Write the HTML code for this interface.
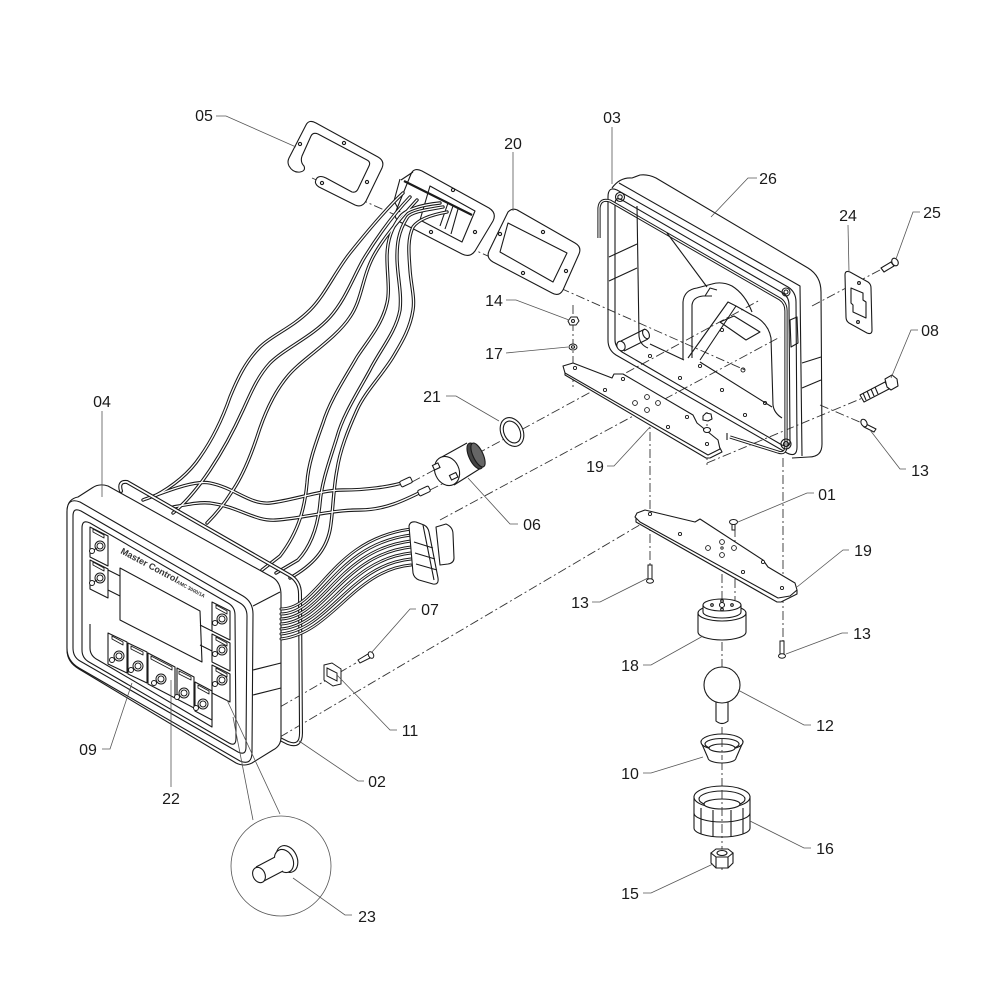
<!DOCTYPE html>
<html><head><meta charset="utf-8"><style>
html,body{margin:0;padding:0;background:#fff;}
svg{display:block;}
text{font-family:"Liberation Sans",Arial,sans-serif;font-size:16px;fill:#1a1a1a;}
</style></head><body>
<svg width="1000" height="1000" viewBox="0 0 1000 1000" xmlns="http://www.w3.org/2000/svg">
<rect width="1000" height="1000" fill="#fff"/>

<!-- ================= DASH-DOT CENTER LINES ================= -->
<g fill="none" stroke="#333" stroke-width="0.9" stroke-dasharray="9 3 2 3">
  <path d="M 312,178 L 745,370"/>
  <path d="M 462,462 L 760,300"/>
  <path d="M 440,520 L 780,337"/>
  <path d="M 895,262 L 812,306"/>
  <path d="M 707,463 L 865,397"/>
  <path d="M 820,405 L 862,423"/>
  <path d="M 280,737 L 643,523"/>
  <path d="M 280,707 L 356,663"/>
  <path d="M 573,305 L 573,390"/>
  <path d="M 650,398 L 650,565"/>
  <path d="M 707,412 L 707,465"/>
  <path d="M 783,458 L 783,642"/>
  <path d="M 722,540 L 722,870"/>
  <path d="M 735,528 L 735,600"/>
  <path d="M 412,482 L 436,469"/>
  <path d="M 430,490 L 452,479"/>
</g>

<!-- ================= PART 05 GASKET ================= -->
<g fill="#fff" stroke="#1a1a1a" stroke-width="1.1" stroke-linejoin="round">
  <path d="M 306,125 Q 309,119 316,123 L 378,157 Q 385,161 382,168 L 366,201 Q 362,208 355,205 L 319,187 Q 313,183 317,178 Q 320,175 326,178 L 352,192 Q 356,193 358,189 L 369,166 Q 371,162 367,160 L 318,134 Q 313,132 311,136 L 302,156 Q 300,162 304,166 Q 306,171 300,172 Q 293,173 289,166 Q 287,162 289,158 Z"/>
  <circle cx="300" cy="144" r="1.6"/><circle cx="344" cy="143" r="1.6"/><circle cx="367" cy="182" r="1.6"/><circle cx="322" cy="183" r="1.6"/>
</g>

<!-- ================= GROMMET BOX ================= -->
<g fill="#fff" stroke="#1a1a1a" stroke-width="1.1" stroke-linejoin="round">
  <path d="M 411,174 Q 414,167 422,171 L 489,208 Q 497,213 493,221 L 475,251 Q 470,258 462,254 L 400,222 Q 393,218 396,211 Z"/>
  <path d="M 430,186 L 475,211 L 462,242 L 420,220 Z" fill="none"/>
  <path d="M 400,179 L 394,201 L 400,212" fill="none"/>
  <path d="M 401,180 L 413,172" fill="none"/>
  <path d="M 404,181 L 472,215" fill="none" stroke-width="2.2"/>
  <path d="M 448,203 L 440,226 M 453,206 L 445,229 M 458,209 L 451,234" fill="none"/>
  <circle cx="453" cy="190" r="1.6"/><circle cx="475" cy="232" r="1.6"/><circle cx="431" cy="232" r="1.6"/>
</g>

<!-- ================= PART 20 ================= -->
<g fill="#fff" stroke="#1a1a1a" stroke-width="1.1" stroke-linejoin="round">
  <path d="M 508,212 Q 513,207 519,211 L 575,243 Q 582,247 579,254 L 563,290 Q 559,297 552,293 L 493,262 Q 486,258 489,251 Z"/>
  <path d="M 508,223 L 567,253 L 553,282 L 500,252 Z" fill="none"/>
  <circle cx="543" cy="232" r="1.6"/><circle cx="566" cy="271" r="1.6"/><circle cx="523" cy="273" r="1.6"/><circle cx="500" cy="234" r="1.6"/>
</g>

<!-- ================= WIRES (double line) ================= -->
<g fill="none" stroke-linecap="round">
  <g stroke="#1a1a1a" stroke-width="3.4">
    <path id="w1" d="M 403,193 C 385,210 362,238 350,253 C 335,272 325,295 310,310 C 292,328 272,335 260,347 C 245,362 237,380 230,397 C 222,420 212,440 200,457 C 188,475 170,488 153,497"/>
    <path d="M 410,197 C 390,218 372,245 363,260 C 352,280 345,300 330,317 C 312,337 285,348 270,363 C 257,377 250,395 243,410 C 233,432 222,452 210,470 C 198,488 185,503 173,513"/>
    <path d="M 417,200 C 397,222 382,240 373,257 C 362,278 362,300 350,317 C 335,340 300,360 287,377 C 272,395 263,418 257,437 C 250,458 243,475 233,490 C 225,503 215,515 207,523"/>
    <path d="M 440,203 C 420,205 405,210 400,217 C 390,230 387,245 387,257 C 387,275 390,290 387,303 C 382,325 368,340 357,357 C 345,378 330,400 323,423 C 315,445 308,465 307,483 C 305,505 300,530 280,556 L 262,570"/>
    <path d="M 443,207 C 425,210 410,212 407,218 C 398,232 397,245 397,257 C 397,275 402,292 400,310 C 396,332 380,350 370,370 C 358,392 343,415 337,437 C 330,460 322,480 320,503 C 318,525 312,545 298,560 L 276,573"/>
    <path d="M 447,212 C 430,215 418,220 413,227 C 407,240 409,255 410,270 C 411,285 415,298 413,310 C 410,330 400,345 393,357 C 382,375 365,392 357,410 C 348,430 340,450 337,470 C 333,490 333,515 330,530 C 326,550 313,565 290,578"/>
    <path d="M 143,500 C 170,490 195,480 210,483 C 235,488 250,505 270,503 C 295,500 320,490 343,490 C 365,490 390,487 405,482"/>
    <path d="M 173,507 C 190,504 200,502 210,503 C 240,507 255,522 277,520 C 305,518 330,510 360,510 C 385,510 405,500 423,491"/>
  </g>
  <g stroke="#fff" stroke-width="1.3">
    <path d="M 403,193 C 385,210 362,238 350,253 C 335,272 325,295 310,310 C 292,328 272,335 260,347 C 245,362 237,380 230,397 C 222,420 212,440 200,457 C 188,475 170,488 153,497"/>
    <path d="M 410,197 C 390,218 372,245 363,260 C 352,280 345,300 330,317 C 312,337 285,348 270,363 C 257,377 250,395 243,410 C 233,432 222,452 210,470 C 198,488 185,503 173,513"/>
    <path d="M 417,200 C 397,222 382,240 373,257 C 362,278 362,300 350,317 C 335,340 300,360 287,377 C 272,395 263,418 257,437 C 250,458 243,475 233,490 C 225,503 215,515 207,523"/>
    <path d="M 440,203 C 420,205 405,210 400,217 C 390,230 387,245 387,257 C 387,275 390,290 387,303 C 382,325 368,340 357,357 C 345,378 330,400 323,423 C 315,445 308,465 307,483 C 305,505 300,530 280,556 L 262,570"/>
    <path d="M 443,207 C 425,210 410,212 407,218 C 398,232 397,245 397,257 C 397,275 402,292 400,310 C 396,332 380,350 370,370 C 358,392 343,415 337,437 C 330,460 322,480 320,503 C 318,525 312,545 298,560 L 276,573"/>
    <path d="M 447,212 C 430,215 418,220 413,227 C 407,240 409,255 410,270 C 411,285 415,298 413,310 C 410,330 400,345 393,357 C 382,375 365,392 357,410 C 348,430 340,450 337,470 C 333,490 333,515 330,530 C 326,550 313,565 290,578"/>
    <path d="M 143,500 C 170,490 195,480 210,483 C 235,488 250,505 270,503 C 295,500 320,490 343,490 C 365,490 390,487 405,482"/>
    <path d="M 173,507 C 190,504 200,502 210,503 C 240,507 255,522 277,520 C 305,518 330,510 360,510 C 385,510 405,500 423,491"/>
  </g>
</g>
<!-- wire connectors -->
<g fill="#fff" stroke="#1a1a1a" stroke-width="1">
  <rect x="400" y="479" width="12" height="6" rx="1.5" transform="rotate(-25 406 482)"/>
  <rect x="418" y="488" width="12" height="6" rx="1.5" transform="rotate(-25 424 491)"/>
</g>

<!-- ================= GASKET 02 ================= -->
<g fill="none" stroke-linecap="round">
  <path d="M 121,491 Q 118,481 127,482 L 289,575 Q 300,581 300,594 L 301,733 Q 301,748 288,743 L 276,737" stroke="#1a1a1a" stroke-width="4"/>
  <path d="M 121,491 Q 118,481 127,482 L 289,575 Q 300,581 300,594 L 301,733 Q 301,748 288,743 L 276,737" stroke="#fff" stroke-width="1.8"/>
</g>

<!-- ================= DISPLAY 04 ================= -->
<g fill="#fff" stroke="#1a1a1a" stroke-width="1.1" stroke-linejoin="round">
  <path d="M 67,512 Q 67,499 78,497 L 92,488 Q 99,483 108,486 L 272,577 Q 281,582 281,595 L 281,737 Q 281,746 273,750 L 252,763 Q 244,767 236,763 L 79,669 Q 67,662 67,650 Z"/>
  <path d="M 67,512 Q 67,497 80,502 L 243,596 Q 253,602 253,614 L 252,752 Q 252,766 240,761 L 79,668 Q 67,661 67,648 Z"/>
  <path d="M 73,516 Q 73,507 81,511 L 240,603 Q 247,607 247,616 L 246,747 Q 246,756 238,752 L 80,661 Q 73,657 73,648 Z" fill="none"/>
  <path d="M 82,528 Q 82,519 90,523 L 228,603 Q 235,607 235,615 L 236,738 Q 236,747 229,743 L 89,662 Q 82,658 82,650 Z" fill="none"/>
  <path d="M 253,606 L 280,592" fill="none"/>
  <path d="M 253,670 L 281,663 M 253,695 L 281,688" fill="none"/>
  <path d="M 120,568 L 200,611 L 202,662 L 120,620 Z"/>
  <!-- left column -->
  <path d="M 90,527 L 108,536 L 108,566 L 90,557 Z M 90,560 L 108,569 L 108,598 L 90,589 Z" fill="none"/>
  <path d="M 108,570 L 120,576 M 108,590 L 120,596" fill="none"/>
  <!-- right column -->
  <path d="M 212,602 L 230,611 L 230,640 L 212,631 Z M 212,634 L 230,643 L 230,671 L 212,662 Z M 212,665 L 230,674 L 230,702 L 212,693 Z" fill="none"/>
  <path d="M 200,625 L 212,631 M 200,645 L 212,651" fill="none"/>
  <!-- bottom sub panel -->
  <path d="M 90,624 L 90,648 Q 90,656 98,660 L 212,727 L 212,690" fill="none"/>
  <path d="M 108,633 L 127,642 L 127,673 L 108,664 Z M 128,643 L 147,652 L 147,683 L 128,674 Z M 148,653 L 175,667 L 175,698 L 148,684 Z M 177,668 L 194,677 L 194,708 L 177,699 Z M 195,682 L 212,691 L 212,720 L 195,711 Z" fill="none"/>
  <!-- label boxes -->
  <g fill="#fff" stroke-width="0.9">
    <path d="M 93,529 L 104,535 L 104,538 L 93,532 Z"/><path d="M 93,562 L 104,568 L 104,571 L 93,565 Z"/>
    <path d="M 216,605 L 227,611 L 227,614 L 216,608 Z"/><path d="M 216,637 L 227,643 L 227,646 L 216,640 Z"/><path d="M 216,668 L 227,674 L 227,677 L 216,671 Z"/>
    <path d="M 112,636 L 123,642 L 123,645 L 112,639 Z"/><path d="M 131,646 L 143,652 L 143,655 L 131,649 Z"/>
    <path d="M 151,656 L 172,667 L 172,670 L 151,659 Z"/><path d="M 179,671 L 191,677 L 191,680 L 179,674 Z"/><path d="M 198,685 L 209,691 L 209,694 L 198,688 Z"/>
  </g>
  <!-- switches -->
  <g stroke-width="1">
    <circle cx="100" cy="546" r="5"/><circle cx="100" cy="546" r="3"/><path d="M 97,548 L 92,551" /><circle cx="92" cy="551" r="2.5"/>
    <circle cx="100" cy="578" r="5"/><circle cx="100" cy="578" r="3"/><path d="M 97,580 L 92,583"/><circle cx="92" cy="583" r="2.5"/>
    <circle cx="222" cy="619" r="5"/><circle cx="222" cy="619" r="3"/><circle cx="215" cy="623" r="2.5"/>
    <circle cx="222" cy="650" r="5"/><circle cx="222" cy="650" r="3"/><circle cx="215" cy="654" r="2.5"/>
    <circle cx="222" cy="680" r="5"/><circle cx="222" cy="680" r="3"/><circle cx="215" cy="684" r="2.5"/>
    <circle cx="119" cy="656" r="5"/><circle cx="119" cy="656" r="3"/><circle cx="112" cy="660" r="2.5"/>
    <circle cx="138" cy="666" r="5"/><circle cx="138" cy="666" r="3"/><circle cx="131" cy="670" r="2.5"/>
    <circle cx="161" cy="679" r="5"/><circle cx="161" cy="679" r="3"/><circle cx="154" cy="683" r="2.5"/>
    <circle cx="184" cy="693" r="5"/><circle cx="184" cy="693" r="3"/><circle cx="177" cy="697" r="2.5"/>
    <circle cx="203" cy="704" r="5"/><circle cx="203" cy="704" r="3"/><circle cx="196" cy="708" r="2.5"/>
  </g>
</g>
<text x="0" y="0" transform="translate(120,553) rotate(28)" style="font-size:9px;font-weight:bold;fill:#333">Master Control</text>
<text x="0" y="0" transform="translate(176,583) rotate(28)" style="font-size:5px;font-weight:bold;fill:#333">AMC 3000/1A</text>

<!-- flat cable -->
<g fill="none" stroke-linecap="round">
  <g stroke="#1a1a1a" stroke-width="3">
    <path d="M 281,609 C 320,609 330,540 411,529"/>
    <path d="M 281,614 C 322,613 334,545 411,535"/>
    <path d="M 281,619 C 324,617 338,550 411,541"/>
    <path d="M 281,624 C 326,621 342,555 411,547"/>
    <path d="M 281,629 C 328,625 346,560 411,553"/>
    <path d="M 281,634 C 330,629 350,565 411,559"/>
    <path d="M 281,639 C 332,633 354,570 411,565"/>
  </g>
  <g stroke="#fff" stroke-width="1.1">
    <path d="M 281,609 C 320,609 330,540 411,529"/>
    <path d="M 281,614 C 322,613 334,545 411,535"/>
    <path d="M 281,619 C 324,617 338,550 411,541"/>
    <path d="M 281,624 C 326,621 342,555 411,547"/>
    <path d="M 281,629 C 328,625 346,560 411,553"/>
    <path d="M 281,634 C 330,629 350,565 411,559"/>
    <path d="M 281,639 C 332,633 354,570 411,565"/>
  </g>
</g>
<!-- connector block -->
<g fill="#fff" stroke="#1a1a1a" stroke-width="1.1" stroke-linejoin="round">
  <path d="M 436,527 L 446,524 Q 453,527 453,534 L 454,558 Q 454,563 448,564 L 440,565 Z"/>
  <path d="M 409,526 Q 410,521 416,522 L 424,525 Q 428,527 429,532 L 438,578 Q 439,585 433,584 L 419,580 Q 414,578 413,573 Z"/>
  <path d="M 423,525 L 434,580" fill="none"/>
  <path d="M 414,542 L 433,548 M 415,553 L 435,559 M 416,564 L 437,570" fill="none"/>
</g>

<!-- ================= PART 11 & 07 ================= -->
<g fill="#fff" stroke="#1a1a1a" stroke-width="1">
  <path d="M 324,665 L 332,663 L 341,669 L 341,684 L 333,686 L 324,680 Z"/>
  <path d="M 327,668 L 337,673 L 337,681 L 327,676 Z"/>
  <path d="M 358,660 L 368,654 L 370,658 L 360,663 Z"/>
  <ellipse cx="371" cy="655" rx="2.5" ry="3.5" transform="rotate(-30 371 655)"/>
</g>

<!-- ================= PART 06 KNOB & 21 RING ================= -->
<g stroke="#1a1a1a" stroke-width="1.1" fill="#fff">
  <path d="M 440,458 L 467,443 L 481,468 L 454,485 Z" stroke="none"/>
  <path d="M 440,458 L 467,443 M 454,485 L 481,468" fill="none"/>
  <ellipse cx="447" cy="471" rx="12" ry="15" transform="rotate(-25 447 471)"/>
  <ellipse cx="475" cy="456" rx="6" ry="14" transform="rotate(-25 475 456)" fill="#444"/>
  <ellipse cx="478" cy="455" rx="5" ry="13" transform="rotate(-25 478 455)" fill="#666"/>
  <rect x="433" y="464" width="6" height="5" transform="rotate(-25 436 466)"/>
  <rect x="450" y="474" width="7" height="5" transform="rotate(-25 453 476)"/>
  <ellipse cx="512" cy="432" rx="11" ry="15" transform="rotate(-25 512 432)"/>
  <ellipse cx="512" cy="432" rx="8" ry="11.5" transform="rotate(-25 512 432)"/>
</g>

<!-- ================= ENCLOSURE 26 ================= -->
<g fill="none" stroke="#1a1a1a" stroke-width="1.1" stroke-linejoin="round">
  <path d="M 612,188 Q 620,177 632,178 L 640,175 Q 648,174 656,178 L 808,268 Q 821,276 821,292 L 822,444 Q 822,457 809,457 L 792,458"/>
  <path d="M 608,197 Q 608,186 617,190 L 788,287 Q 796,292 796,302 L 797,447 Q 797,458 787,453 L 616,355 Q 608,350 608,340 Z"/>
  <path d="M 615,204 Q 615,196 622,200 L 783,293 Q 789,297 789,305 L 790,441 Q 790,449 782,445 L 622,352 Q 615,347 615,340 Z"/>
  <path d="M 619,183 L 800,286 L 802,456"/>
  <path d="M 802,363 L 821,357 M 802,388 L 821,380"/>
  <path d="M 790,320 L 797,317 L 798,343 L 791,347 Z"/>
  <!-- gasket 03 -->
  <path d="M 599,238 L 599,208 Q 600,198 610,201 L 780,299 Q 786,303 786,311 L 786,445 Q 786,455 778,452 L 730,437" stroke-width="3.2"/>
  <path d="M 599,238 L 599,208 Q 600,198 610,201 L 780,299 Q 786,303 786,311 L 786,445 Q 786,455 778,452 L 730,437" stroke="#fff" stroke-width="1.2"/>
  <path d="M 727,433 L 727,440"/>
  <!-- interior -->
  <path d="M 637,206 L 639,336 Q 640,345 648,348"/>
  <path d="M 609,257 L 637,244 M 609,281 L 637,268"/>
  <path d="M 667,233 L 707,287"/>
  <path d="M 683,360 L 683,302 Q 684,290 697,288 L 712,284 Q 722,281 732,286 Q 745,294 752,312"/>
  <path d="M 692,358 L 692,305 Q 693,297 703,296 L 712,296"/>
  <path d="M 705,296 L 710,288 L 717,290"/>
  <path d="M 688,358 L 728,302 L 736,306 L 700,360"/>
  <path d="M 736,306 L 752,315 Q 768,322 771,338 L 773,405 Q 774,413 782,418"/>
  <path d="M 720,322 L 734,316 L 760,332 L 746,340 Z"/>
  <path d="M 650,344 L 684,360 M 700,362 L 772,407"/>
  <path d="M 621,341 L 645,329 M 624,351 L 648,339"/>
  <ellipse cx="621" cy="346" rx="4" ry="5" transform="rotate(-25 621 346)" fill="#fff"/>
  <ellipse cx="646" cy="334" rx="3" ry="5" transform="rotate(-25 646 334)"/>
  <circle cx="620" cy="197" r="4.5"/><circle cx="620" cy="197" r="2.2"/>
  <circle cx="786" cy="292" r="4"/><circle cx="786" cy="292" r="2"/>
  <circle cx="786" cy="444" r="5"/><circle cx="786" cy="444" r="2.5"/>
  <g stroke-width="0.9">
    <circle cx="650" cy="356" r="1.6"/><circle cx="680" cy="378" r="1.6"/><circle cx="700" cy="366" r="1.6"/>
    <circle cx="722" cy="390" r="1.6"/><circle cx="743" cy="370" r="2"/><circle cx="722" cy="330" r="1.6"/>
    <circle cx="745" cy="415" r="1.6"/><circle cx="765" cy="403" r="1.6"/>
  </g>
</g>

<!-- ================= BRACKET 19 UPPER ================= -->
<g fill="#fff" stroke="#1a1a1a" stroke-width="1.1" stroke-linejoin="round">
  <path d="M 565,371 L 565,375 L 706,458 L 710,458 L 722,452 L 720,448 Z"/>
  <path d="M 563,366 L 573,363 L 612,378 L 614,374 L 623,374 L 693,415 L 697,423 L 718,440 L 720,449 L 708,455 L 565,373 Z"/>
  <g stroke-width="0.9">
    <circle cx="575" cy="368" r="1.6"/><circle cx="605" cy="390" r="1.6"/><circle cx="623" cy="379" r="1.6"/>
    <circle cx="647" cy="397" r="2.4"/><circle cx="635" cy="403" r="2.4"/><circle cx="658" cy="403" r="2.4"/><circle cx="647" cy="410" r="2.4"/>
    <circle cx="668" cy="427" r="1.6"/><circle cx="687" cy="417" r="1.6"/><circle cx="707" cy="444" r="1.6"/>
  </g>
  <path d="M 703,416 L 706,413 L 711,414 L 712,419 L 708,421 L 703,420 Z"/>
  <ellipse cx="707" cy="430" rx="3.5" ry="2.5"/>
</g>

<!-- 14 / 17 -->
<g fill="#fff" stroke="#1a1a1a" stroke-width="1">
  <path d="M 568,321 L 571,317 L 577,317 L 579,321 L 576,325 L 570,325 Z"/><circle cx="573" cy="321" r="1.5"/>
  <ellipse cx="573" cy="347" rx="4" ry="3"/><ellipse cx="573" cy="347" rx="1.6" ry="1.2"/>
</g>

<!-- 24 plate, 25 screw, 08 bolt, 13 screw -->
<g fill="#fff" stroke="#1a1a1a" stroke-width="1.1" stroke-linejoin="round">
  <path d="M 845,275 Q 845,270 850,272 L 868,282 Q 871,284 871,288 L 872,330 Q 872,335 867,333 L 849,323 Q 846,321 846,317 Z"/>
  <path d="M 851,288 L 863,293 L 863,300 L 866,302 L 866,318 L 853,312 L 853,305 L 851,303 Z" fill="none"/>
  <circle cx="859" cy="283" r="1.4"/><circle cx="858" cy="322" r="1.4"/>
  <path d="M 881,268 L 891,262 L 894,266 L 884,272 Z"/>
  <ellipse cx="895" cy="262" rx="3" ry="4" transform="rotate(-30 895 262)"/>
  <path d="M 860,395 L 885,382 L 889,389 L 864,402 Z"/>
  <path d="M 863,393 L 866,400 M 867,391 L 870,398 M 871,389 L 874,396 M 875,387 L 878,394"/>
  <path d="M 885,379 L 892,375 L 897,379 L 898,386 L 891,390 L 887,387 Z"/>
  <path d="M 866,424 L 876,429 L 874,432 L 864,427 Z"/>
  <ellipse cx="864" cy="423" rx="2.8" ry="4" transform="rotate(-30 864 423)"/>
</g>

<!-- ================= BRACKET 19 LOWER ================= -->
<g fill="#fff" stroke="#1a1a1a" stroke-width="1.1" stroke-linejoin="round">
  <path d="M 636,518 L 636,522 L 777,602 L 781,602 L 797,594 L 797,590 Z"/>
  <path d="M 637,513 L 645,510 L 695,522 L 700,519 L 763,560 L 768,567 L 795,583 L 797,590 L 790,596 L 778,598 L 640,522 L 635,517 Z"/>
  <g stroke-width="0.9">
    <circle cx="650" cy="514" r="1.6"/><circle cx="680" cy="534" r="1.6"/>
    <circle cx="722" cy="542" r="2.4"/><circle cx="708" cy="548" r="2.4"/><circle cx="734" cy="548" r="2.4"/><circle cx="722" cy="555" r="2.4"/><circle cx="722" cy="548" r="1.2"/>
    <circle cx="743" cy="572" r="1.6"/><circle cx="763" cy="562" r="1.6"/><circle cx="782" cy="588" r="1.6"/>
  </g>
</g>
<!-- 01 and 13 screws -->
<g fill="#fff" stroke="#1a1a1a" stroke-width="1">
  <path d="M 732,523 L 732,530 L 735,530 L 735,523 Z"/><ellipse cx="733.5" cy="522" rx="4" ry="2.5"/>
  <path d="M 648,565 L 648,580 L 652,580 L 652,565 Z"/><ellipse cx="650" cy="581" rx="3.5" ry="2.2"/>
  <path d="M 780,641 L 780,655 L 784,655 L 784,641 Z"/><ellipse cx="782" cy="656" rx="3.5" ry="2.2"/>
</g>

<!-- ================= JOYSTICK STACK ================= -->
<g fill="#fff" stroke="#1a1a1a" stroke-width="1.1">
  <!-- 18 -->
  <path d="M 698,613 L 698,632 A 24 8 0 0 0 746,632 L 746,613 Z"/>
  <ellipse cx="722" cy="613" rx="24" ry="8"/>
  <path d="M 703,605 L 703,612 A 19 6 0 0 0 741,612 L 741,605 Z"/>
  <ellipse cx="722" cy="605" rx="19" ry="6"/>
  <circle cx="722" cy="605" r="2.5"/><circle cx="712" cy="605" r="1.3"/><circle cx="732" cy="605" r="1.3"/><circle cx="722" cy="609.5" r="1.3"/><circle cx="722" cy="601" r="1.3"/>
  <!-- 12 -->
  <path d="M 716,697 L 716,721 Q 722,726 728,721 L 728,697 Z"/>
  <circle cx="722" cy="685" r="18"/>
  <!-- 10 -->
  <path d="M 701,742 L 708,758 A 14 5 0 0 0 736,758 L 743,742 Z"/>
  <ellipse cx="722" cy="742" rx="21" ry="8"/>
  <ellipse cx="722" cy="744" rx="17" ry="5.5"/>
  <ellipse cx="722" cy="748" rx="13" ry="4"/>
  <!-- 16 -->
  <path d="M 694,797 L 694,828 A 28 9 0 0 0 750,828 L 750,797 Z"/>
  <path d="M 694,813 A 28 9 0 0 0 750,813" fill="none"/>
  <path d="M 701,808 L 701,834 M 713,810 L 713,837 M 731,810 L 731,837 M 743,808 L 743,834" fill="none"/>
  <ellipse cx="722" cy="797" rx="28" ry="11"/>
  <ellipse cx="722" cy="799" rx="23" ry="8"/>
  <ellipse cx="722" cy="804" rx="18" ry="5"/>
  <!-- 15 -->
  <path d="M 711,853 L 711,863 L 716,868 L 728,868 L 733,863 L 733,853 Z"/>
  <path d="M 716,857 L 716,868 M 728,857 L 728,868" fill="none"/>
  <path d="M 711,853 L 716,849 L 728,849 L 733,853 L 728,857 L 716,857 Z"/>
  <ellipse cx="722" cy="853" rx="5" ry="2.5"/>
</g>
<g fill="none" stroke="#333" stroke-width="0.9" stroke-dasharray="9 3 2 3">
  <path d="M 722,738 L 722,760 M 722,790 L 722,840"/>
</g>

<!-- ================= DETAIL CIRCLE 23 ================= -->
<g fill="none" stroke="#555" stroke-width="0.8">
  <circle cx="281" cy="866" r="50"/>
  <path d="M 233,717 L 253,820 M 227,700 L 280,814"/>
</g>
<g fill="#fff" stroke="#1a1a1a" stroke-width="1.1">
  <ellipse cx="287" cy="859" rx="10" ry="14" transform="rotate(-25 287 859)"/>
  <ellipse cx="284" cy="861" rx="9" ry="12" transform="rotate(-25 284 861)"/>
  <path d="M 275,857 L 256,867 L 262,882 L 283,871 Z" stroke="none"/>
  <path d="M 275,857 L 256,867 M 262,882 L 283,871" fill="none"/>
  <ellipse cx="259" cy="875" rx="6" ry="8" transform="rotate(-25 259 875)"/>
</g>

<!-- ================= LEADERS ================= -->
<g fill="none" stroke="#555" stroke-width="0.8">
  <path d="M 216,116 L 226,116 L 296,147"/>
  <path d="M 513,152 L 513,211"/>
  <path d="M 612,127 L 612,184"/>
  <path d="M 757,178 L 748,178 L 711,217"/>
  <path d="M 848,225 L 849,272"/>
  <path d="M 920,212 L 913,212 L 896,259"/>
  <path d="M 506,300 L 516,300 L 569,320"/>
  <path d="M 506,353 L 516,352 L 568,347"/>
  <path d="M 918,330 L 911,330 L 891,378"/>
  <path d="M 446,396 L 456,396 L 499,421"/>
  <path d="M 607,466 L 614,466 L 650,427"/>
  <path d="M 906,469 L 900,469 L 870,430"/>
  <path d="M 102,411 L 102,497"/>
  <path d="M 518,524 L 510,524 L 468,478"/>
  <path d="M 814,493 L 807,493 L 738,522"/>
  <path d="M 849,550 L 843,550 L 797,587"/>
  <path d="M 416,609 L 410,609 L 372,652"/>
  <path d="M 592,602 L 600,602 L 648,578"/>
  <path d="M 848,633 L 842,633 L 786,654"/>
  <path d="M 643,665 L 651,665 L 703,636"/>
  <path d="M 397,730 L 390,730 L 337,675"/>
  <path d="M 811,725 L 804,725 L 738,690"/>
  <path d="M 102,749 L 110,749 L 132,683"/>
  <path d="M 364,781 L 358,781 L 299,741"/>
  <path d="M 171,787 L 171,680"/>
  <path d="M 643,773 L 651,773 L 703,757"/>
  <path d="M 811,848 L 804,848 L 750,821"/>
  <path d="M 352,915 L 345,915 L 293,878"/>
  <path d="M 643,893 L 651,893 L 713,864"/>
</g>

<!-- ================= LABELS ================= -->
<g text-anchor="middle">
  <text x="204" y="121">05</text>
  <text x="513" y="149">20</text>
  <text x="612" y="123">03</text>
  <text x="768" y="184">26</text>
  <text x="848" y="221">24</text>
  <text x="932" y="218">25</text>
  <text x="494" y="306">14</text>
  <text x="494" y="359">17</text>
  <text x="930" y="336">08</text>
  <text x="432" y="402">21</text>
  <text x="595" y="472">19</text>
  <text x="920" y="476">13</text>
  <text x="102" y="407">04</text>
  <text x="532" y="530">06</text>
  <text x="827" y="500">01</text>
  <text x="863" y="556">19</text>
  <text x="430" y="615">07</text>
  <text x="580" y="608">13</text>
  <text x="862" y="639">13</text>
  <text x="630" y="671">18</text>
  <text x="410" y="736">11</text>
  <text x="825" y="731">12</text>
  <text x="88" y="755">09</text>
  <text x="377" y="787">02</text>
  <text x="171" y="804">22</text>
  <text x="630" y="779">10</text>
  <text x="825" y="854">16</text>
  <text x="367" y="922">23</text>
  <text x="630" y="899">15</text>
</g>
</svg>
</body></html>
